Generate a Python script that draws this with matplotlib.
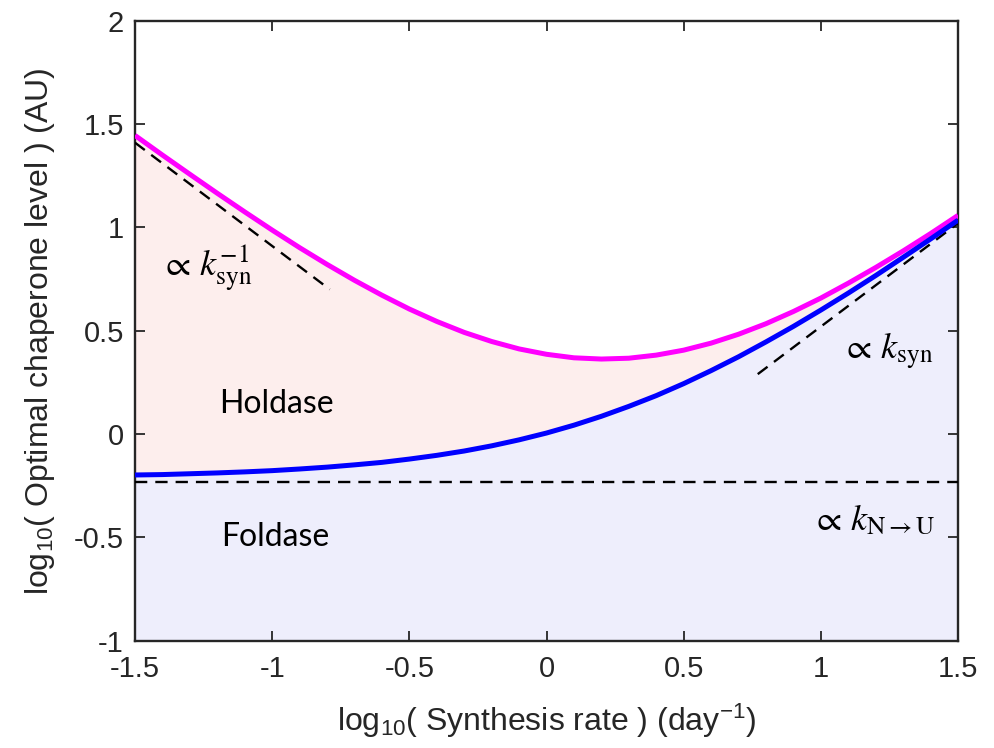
import matplotlib
matplotlib.use('Agg')
import matplotlib.pyplot as plt
import numpy as np

plt.rcParams['font.family'] = ['Liberation Sans', 'DejaVu Sans']
plt.rcParams['mathtext.fontset'] = 'stix'
plt.rcParams['axes.unicode_minus'] = False

# values (log10 synthesis rate vs log10 chaperone level)
log_ksyn = [-1.5, -1.4, -1.3, -1.2, -1.1, -1.0, -0.9, -0.8, -0.7, -0.6, -0.5,
            -0.4, -0.3, -0.2, -0.1, 0.0, 0.1, 0.2, 0.3, 0.4, 0.5,
            0.6, 0.7, 0.8, 0.9, 1.0, 1.1, 1.2, 1.3, 1.4, 1.5]
upper = [1.445, 1.350, 1.257, 1.165, 1.075, 0.987, 0.902, 0.821, 0.744, 0.672, 0.605,
         0.545, 0.492, 0.448, 0.412, 0.386, 0.369, 0.363, 0.367, 0.382, 0.406,
         0.440, 0.483, 0.534, 0.593, 0.658, 0.730, 0.806, 0.886, 0.970, 1.058]
lower = [-0.198, -0.196, -0.192, -0.188, -0.183, -0.177, -0.169, -0.160, -0.149, -0.137, -0.121,
         -0.103, -0.082, -0.057, -0.028, 0.005, 0.043, 0.086, 0.134, 0.186, 0.244,
         0.307, 0.374, 0.446, 0.521, 0.600, 0.682, 0.767, 0.855, 0.944, 1.035]

# asymptote guide lines (x pairs, y pairs)
inv_x, inv_y = [-1.5, -0.79], [1.41, 0.70]
lin_x, lin_y = [0.77, 1.5], [0.29, 1.02]
flat_x, flat_y = [-1.5, 1.5], [-0.232, -0.232]

fig = plt.figure(figsize=(9.94, 7.48), dpi=100)
ax = fig.add_axes([0.1358, 0.1434, 0.828, 0.8289])

x = np.array(log_ksyn)
up = np.array(upper)
lo = np.array(lower)

ax.fill_between(x, -1, lo, color='#eeeefc', lw=0)
ax.fill_between(x, lo, up, color='#fdeeed', lw=0)

ax.plot(x, up, color='#ff00ff', lw=3.6, solid_capstyle='butt', zorder=4)
ax.plot(x, lo, color='#0000ff', lw=3.6, solid_capstyle='butt', zorder=4)

dash = dict(color='black', lw=1.7, dashes=(5.2, 3.4), zorder=3)
ax.plot(inv_x, inv_y, **dash)
ax.plot(lin_x, lin_y, **dash)
ax.plot(flat_x, flat_y, **dash)

ax.text(-1.24, 0.80, r'$\propto\, k_{\mathrm{syn}}^{-1}$', fontsize=26, ha='center', va='center')
ax.text(1.24, 0.40, r'$\propto\, k_{\mathrm{syn}}$', fontsize=26, ha='center', va='center')
ax.text(1.19, -0.42, r'$\propto\, k_{\mathrm{N\rightarrow U}}$', fontsize=26, ha='center', va='center')
ax.text(-0.985, 0.145, 'Holdase', fontsize=23, family='Lato', ha='center', va='center')
ax.text(-0.99, -0.50, 'Foldase', fontsize=23, family='Lato', ha='center', va='center')

ax.set_xlim(-1.5, 1.5)
ax.set_ylim(-1, 2)
ax.set_xticks([-1.5, -1, -0.5, 0, 0.5, 1, 1.5])
ax.set_xticklabels(['-1.5', '-1', '-0.5', '0', '0.5', '1', '1.5'])
ax.set_yticks([-1, -0.5, 0, 0.5, 1, 1.5, 2])
ax.set_yticklabels(['-1', '-0.5', '0', '0.5', '1', '1.5', '2'])
ax.tick_params(axis='both', direction='in', length=7, width=1.3, labelsize=21,
               colors='#262626', top=True, right=True)
ax.tick_params(axis='x', pad=10)
ax.tick_params(axis='y', pad=8)
for s in ax.spines.values():
    s.set_linewidth(1.7)
    s.set_color('#262626')

ax.set_xlabel(r'log$\mathregular{_{10}}$( Synthesis rate ) (day$\mathregular{^{-1}}$)',
              fontsize=23, color='#262626', labelpad=14)
ax.set_ylabel(r'log$\mathregular{_{10}}$( Optimal chaperone level ) (AU)',
              fontsize=23, color='#262626', labelpad=12)

fig.savefig('out.png', dpi=100)
